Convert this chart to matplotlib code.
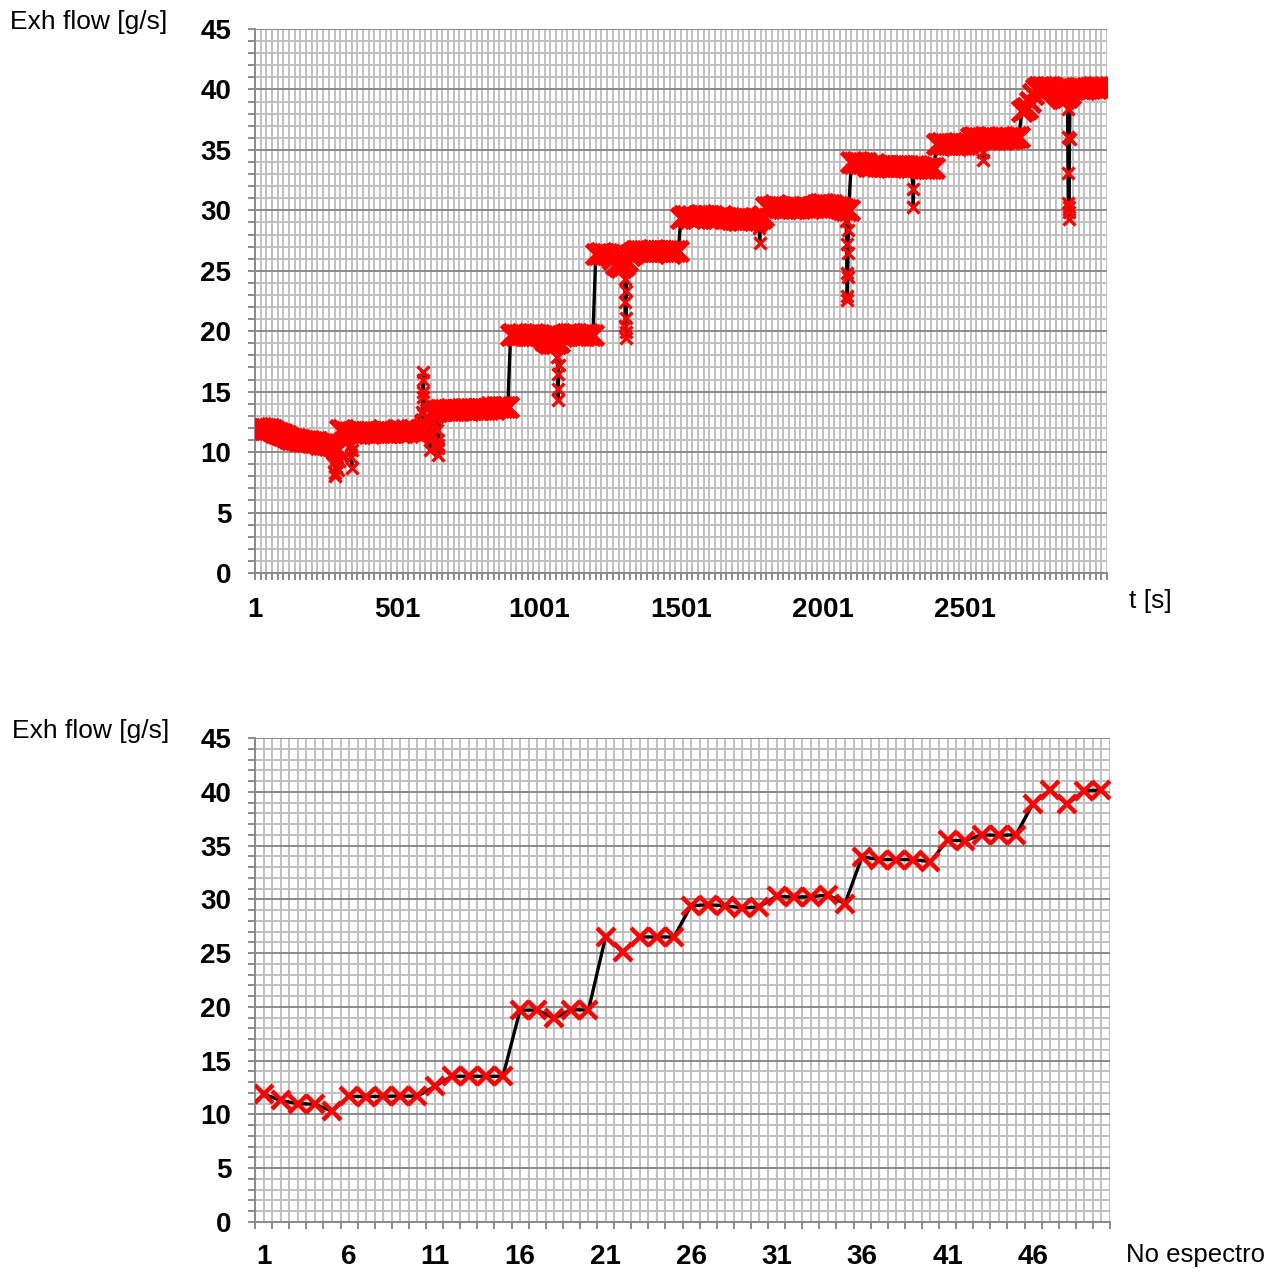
import matplotlib.pyplot as plt
import numpy as np

plt.rcParams['font.family'] = ['Liberation Sans', 'DejaVu Sans']

# exhaust flow, read every 10 s (one line = one minute = one spectrum)
flow_10s = [
    12.0, 12.0, 12.0, 11.9, 11.9, 11.9,
    11.8, 11.7, 11.6, 11.5, 11.4, 11.3,
    11.2, 11.1, 11.1, 11.0, 11.0, 10.9,
    10.9, 10.9, 10.8, 10.8, 10.8, 10.7,
    10.7, 10.7, 10.6, 10.6, 10.4, 10.2,
    11.8, 11.8, 11.7, 11.7, 11.7, 11.7,
    11.6, 11.6, 11.7, 11.7, 11.6, 11.7,
    11.7, 11.7, 11.7, 11.8, 11.7, 11.7,
    11.7, 11.7, 11.8, 11.7, 11.7, 11.8,
    11.7, 11.8, 11.8, 11.7, 11.8, 11.9,
    12.3, 12.8, 13.2, 13.3, 13.4, 13.5,
    13.5, 13.5, 13.5, 13.6, 13.5, 13.5,
    13.5, 13.6, 13.6, 13.5, 13.6, 13.6,
    13.6, 13.6, 13.6, 13.6, 13.6, 13.7,
    13.6, 13.7, 13.7, 13.7, 13.7, 13.7,
    19.7, 19.8, 19.7, 19.7, 19.8, 19.7,
    19.7, 19.7, 19.8, 19.7, 19.7, 19.6,
    19.3, 19.1, 19.0, 19.0, 19.0, 19.1,
    19.6, 19.7, 19.8, 19.8, 19.8, 19.8,
    19.7, 19.7, 19.7, 19.8, 19.7, 19.7,
    26.4, 26.4, 26.5, 26.4, 26.4, 26.3,
    26.0, 25.6, 25.4, 25.3, 25.5, 25.8,
    26.3, 26.5, 26.6, 26.6, 26.6, 26.6,
    26.6, 26.6, 26.7, 26.6, 26.6, 26.6,
    26.6, 26.6, 26.5, 26.6, 26.6, 26.6,
    29.4, 29.5, 29.5, 29.4, 29.5, 29.4,
    29.5, 29.6, 29.5, 29.5, 29.5, 29.5,
    29.4, 29.4, 29.5, 29.4, 29.4, 29.4,
    29.3, 29.3, 29.2, 29.3, 29.2, 29.3,
    29.3, 29.3, 29.4, 29.3, 29.4, 29.5,
    30.3, 30.3, 30.3, 30.4, 30.3, 30.3,
    30.2, 30.2, 30.3, 30.2, 30.2, 30.3,
    30.2, 30.3, 30.3, 30.2, 30.3, 30.3,
    30.4, 30.5, 30.5, 30.4, 30.4, 30.4,
    30.3, 30.3, 30.2, 30.1, 30.0, 30.0,
    34.0, 33.9, 34.0, 33.9, 33.9, 33.9,
    33.7, 33.7, 33.8, 33.7, 33.7, 33.7,
    33.7, 33.7, 33.6, 33.7, 33.7, 33.7,
    33.7, 33.7, 33.7, 33.6, 33.7, 33.7,
    33.6, 33.5, 33.5, 33.5, 33.5, 33.5,
    35.5, 35.5, 35.6, 35.5, 35.5, 35.5,
    35.5, 35.4, 35.5, 35.5, 35.5, 35.6,
    36.0, 36.1, 36.0, 36.0, 36.0, 36.1,
    36.0, 35.9, 36.0, 35.9, 36.0, 35.9,
    36.0, 36.0, 36.0, 36.0, 36.1, 36.1,
    38.2, 38.4, 38.5, 39.0, 39.6, 40.0,
    40.2, 40.2, 40.1, 40.2, 40.2, 40.1,
    39.8, 39.5, 39.3, 39.3, 39.4, 39.6,
    40.0, 40.1, 40.1, 40.1, 40.0, 40.1,
    40.1, 40.2, 40.1, 40.2, 40.1, 40.2,
]

# short drops / peaks seen between the 10 s readings
spike_t = [278, 280, 282, 284, 286, 288, 293, 296,
           339, 340, 341, 343,
           590, 591, 592, 593, 594,
           614, 616, 618,
           643, 644, 645, 646, 647,
           1066, 1067, 1068, 1069, 1070,
           1303, 1304, 1305, 1306, 1307, 1308, 1309,
           1777, 1778, 1779,
           2083, 2084, 2085, 2086, 2087, 2088, 2089, 2090,
           2318, 2319,
           2563, 2564,
           2862, 2863, 2864, 2865, 2866, 2867, 2868, 2869]
spike_v = [10.0, 9.2, 8.3, 8.0, 8.8, 9.6, 8.5, 9.3,
           10.6, 9.6, 8.7, 10.2,
           13.3, 14.6, 16.0, 16.6, 15.0,
           11.4, 10.2, 11.0,
           11.8, 11.0, 10.3, 9.8, 10.6,
           17.9, 16.5, 14.3, 15.2, 17.2,
           24.3, 22.4, 20.4, 19.4, 19.9, 21.1, 23.3,
           28.5, 27.3, 28.8,
           29.1, 27.2, 24.8, 22.9, 22.6, 24.5, 26.5, 28.4,
           31.8, 30.3,
           34.8, 34.2,
           38.4, 36.1, 33.1, 30.6, 29.3, 29.9, 30.3, 35.9]

# mean flow per spectrum
spectrum_no = list(range(1, 51))
spec_flow = [11.9, 11.3, 11.0, 10.95, 10.3, 11.7, 11.65, 11.7, 11.7, 11.7,
             12.6, 13.55, 13.55, 13.55, 13.55, 19.7, 19.7, 18.95, 19.75, 19.7,
             26.5, 25.1, 26.5, 26.5, 26.5, 29.4, 29.5, 29.4, 29.2, 29.3,
             30.3, 30.2, 30.25, 30.4, 29.6, 33.95, 33.7, 33.7, 33.7, 33.5,
             35.5, 35.45, 36.0, 35.95, 36.0, 38.9, 40.15, 38.85, 40.1, 40.15]

t_ticks = [1, 501, 1001, 1501, 2001, 2501]
spec_ticks = [1, 6, 11, 16, 21, 26, 31, 36, 41, 46]

t_base = 1 + 10 * np.arange(len(flow_10s))
t_all = np.concatenate([t_base, spike_t])
v_all = np.concatenate([flow_10s, spike_v])
order = np.argsort(t_all, kind='stable')
t_all, v_all = t_all[order], v_all[order]

W, H = 1283, 1273
fig = plt.figure(figsize=(W / 100, H / 100), dpi=100)
ax1 = fig.add_axes([255 / W, 1 - 573 / H, 852 / W, 544 / H])
ax2 = fig.add_axes([255 / W, 1 - 1222 / H, 855 / W, 484 / H])

MINOR = '#c0c0c0'
MAJOR = '#8a8a8a'


def excel_grid(ax, xlines):
    for x in xlines:
        ax.axvline(x, color=MINOR, lw=1.4, zorder=0)
    for y in range(0, 46):
        ax.axhline(y, color=MAJOR if y % 5 == 0 else MINOR, lw=1.4,
                   zorder=0.5 if y % 5 == 0 else 0.2)
    ax.set_ylim(0, 45)
    ax.set_yticks(range(0, 46, 5))
    ax.set_yticks(range(0, 46), minor=True)
    for s in ('top', 'right'):
        ax.spines[s].set_visible(False)
    for s in ('left', 'bottom'):
        ax.spines[s].set_color(MAJOR)
        ax.spines[s].set_linewidth(1.4)
    ax.tick_params(which='both', direction='out', length=5, width=1.4,
                   color=MAJOR, labelsize=20, pad=12)
    for lab in ax.get_xticklabels() + ax.get_yticklabels():
        lab.set_fontweight('bold')


# top: time series (black line, red crosses; the steady readings drawn
# with wider crosses to give the thick noisy band)
ax1.plot(t_all, v_all, color='black', lw=2.4, marker='x', ms=8, mew=2.4,
         mec='red', zorder=3)
ax1.plot(t_base, flow_10s, ls='none', marker='x', ms=15, mew=3.6,
         color='red', zorder=4)
ax1.set_xlim(1, 3001)
ax1.set_xticks(t_ticks)
ax1.set_xticks(np.arange(1, 3002, 20), minor=True)
excel_grid(ax1, np.arange(1, 3002, 20))

# bottom: per spectrum
ax2.plot(spectrum_no, spec_flow, color='black', lw=2.4, marker='x', ms=13,
         mew=3.2, mec='red', zorder=3)
ax2.set_xlim(0.5, 50.5)
ax2.set_xticks(spec_ticks)
ax2.set_xticks(np.arange(0.5, 51, 1), minor=True)
excel_grid(ax2, np.arange(0.5, 51, 0.5))
ax2.tick_params(axis='x', which='major', length=0, pad=16)

fig.text(10 / W, 1 - 22 / H, 'Exh flow [g/s]', fontsize=19, va='center', ha='left')
fig.text(12 / W, 1 - 731 / H, 'Exh flow [g/s]', fontsize=19, va='center', ha='left')
fig.text(1129 / W, 1 - 601 / H, 't [s]', fontsize=19, va='center', ha='left')
fig.text(1126 / W, 1 - 1255 / H, 'No espectro', fontsize=18.5, va='center', ha='left')

fig.savefig('out.png', dpi=100)
